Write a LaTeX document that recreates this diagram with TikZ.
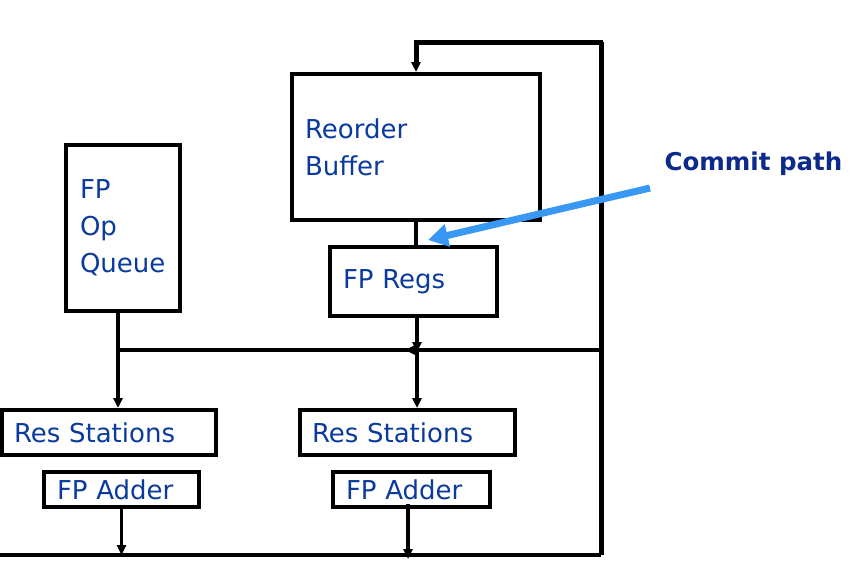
\documentclass[tikz,border=0pt]{standalone}
\usepackage{fontspec}
\setmainfont{DejaVu Sans}
\usetikzlibrary{arrows.meta}
\definecolor{boxtext}{HTML}{0A3A9E}
\definecolor{committext}{HTML}{0B2A8A}
\definecolor{commitblue}{HTML}{3A98F5}
\tikzset{
  unit/.style={draw, line width=4pt, rectangle, align=left, inner ysep=1pt,
    text=boxtext, font=\fontsize{26}{37}\selectfont},
  wire/.style={line width=3.2pt},
  >={Triangle[length=10pt,width=9pt]},
}
\begin{document}
\begin{tikzpicture}[x=1pt, y=-1pt]
    \useasboundingbox (0,0) rectangle (854,563);
    % Units
    \node [unit, minimum width=248pt, minimum height=146pt, inner xsep=13pt, text width=222pt] (rob) at (416,147) {Reorder\\Buffer};
    \node [unit, minimum width=114pt, minimum height=166pt, inner xsep=14pt, text width=86pt] (oq) at (123,228) {FP\\Op\\Queue};
    \node [unit, minimum width=167pt, minimum height=69pt, inner xsep=13pt, text width=141pt] (regs) at (413.5,281.5) {FP Regs};
    \node [unit, minimum width=214pt, minimum height=45pt, inner xsep=12pt, text width=190pt] (rs1) at (109,432.5) {Res Stations};
    \node [unit, minimum width=215pt, minimum height=45pt, inner xsep=12pt, text width=191pt] (rs2) at (407.5,432.5) {Res Stations};
    \node [unit, minimum width=155pt, minimum height=35pt, inner xsep=13pt, text width=129pt] (add1) at (121.5,489.5) {FP Adder};
    \node [unit, minimum width=157pt, minimum height=35pt, inner xsep=13pt, text width=131pt] (add2) at (411.5,489.5) {FP Adder};

    % Buses
    \coordinate (tr) at (601,42);
    \coordinate (br) at (601,555);
    \coordinate (bl) at (0,555);
    \coordinate (busR) at (601,350);
    \coordinate (busM) at (417,350);
    \coordinate (busL) at (118,350);
    \coordinate (o2) at (408,559);

    \draw [line width=5pt] (tr) -- (br);
    \draw [line width=4.5pt] (bl) -- (br);
    \draw [line width=5pt, ->] ([xshift=2pt]tr) -- (tr -| rob.north) -- (rob.north);
    \draw [wire] (rob.south) -- (rob.south |- regs.north);
    \draw [wire] (busM) -- (busL);
    \draw [wire, ->] (regs.south -| busM) -- ([yshift=-2pt]busM);
    \draw [wire, ->] (busR) -- ([xshift=-12pt]busM);
    \draw [wire] (oq.south -| busL) -- (busL);
    \draw [wire, ->] (busL) -- (busL |- rs1.north);
    \draw [wire, ->] ([yshift=4pt]busM) -- (busM |- rs2.north);
    \draw [wire, ->] (add1.south) -- (add1.south |- bl);
    \draw [wire, ->] ([yshift=5pt]add2.south -| o2) -- (o2);

    % Commit path
    \node [anchor=west, text=committext, font=\bfseries\fontsize{24.5}{28}\selectfont] (commit) at (661,164) {Commit path};
    \coordinate (cs) at (650,188);
    \coordinate (ce) at (428,240);
    \draw [commitblue, line width=7pt, -{Triangle[length=20pt,width=22pt]}] (cs) -- (ce);
\end{tikzpicture}
\end{document}
